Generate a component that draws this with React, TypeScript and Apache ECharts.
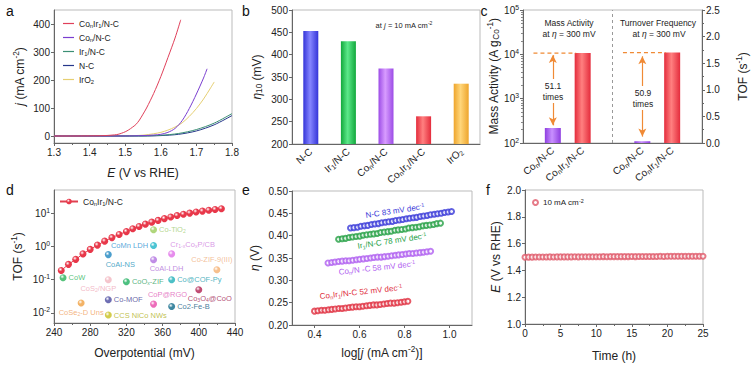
import React, { useEffect, useRef } from 'react';
import * as echarts from 'echarts';

const FONT = '"Liberation Sans", Arial, Helvetica, sans-serif';
const TXT = '#222';

// ---------------- data ----------------
// (a) LSV curves: [E (V vs RHE), j (mA cm-2)]
const aSeriesIds = ['a-CoIr', 'a-Co', 'a-Ir', 'a-NC', 'a-IrO2'];
const aLegendText = ['Co{sub|n}Ir{sub|1}/N-C', 'Co{sub|n}/N-C', 'Ir{sub|1}/N-C', 'N-C', 'IrO{sub|2}'];
const aCoIr = [[1.3, 0], [1.35, 0], [1.4, 0.5], [1.43, 1], [1.45, 2], [1.47, 4], [1.48, 6], [1.49, 10], [1.5, 15], [1.51, 22], [1.52, 31], [1.53, 41], [1.54, 57], [1.55, 78], [1.56, 100], [1.58, 152], [1.6, 212], [1.62, 280], [1.64, 350], [1.656, 415]];
const aCo = [[1.3, 0], [1.45, 0], [1.52, 0.5], [1.56, 2], [1.58, 3.5], [1.6, 6], [1.62, 13], [1.64, 27], [1.66, 55], [1.68, 98], [1.7, 150], [1.72, 207], [1.73, 240]];
const aIr = [[1.3, 0], [1.5, 0], [1.55, 0.3], [1.6, 2.5], [1.65, 9], [1.7, 23], [1.75, 46], [1.8, 80]];
const aNC = [[1.3, 0], [1.5, 0], [1.55, 0], [1.6, 1.5], [1.65, 6], [1.7, 18], [1.75, 40], [1.8, 73]];
const aIrO2 = [[1.3, 0], [1.45, 0], [1.5, 0.5], [1.55, 3], [1.58, 8], [1.6, 13], [1.62, 21], [1.64, 32], [1.66, 47], [1.68, 70], [1.7, 98], [1.72, 132], [1.74, 172], [1.75, 193]];

// (b) overpotential at 10 mA cm-2
const bCategories = ['N-C', 'Ir{sub|1}/N-C', 'Co{sub|n}/N-C', 'Co{sub|n}Ir{sub|1}/N-C', 'IrO{sub|2}'];
const bValues = [453, 430, 369, 262, 335];

// (c) mass activity (left log axis) and TOF (right axis)
const cTickLabels = ['', 'Co{sub|n}/N-C', 'Co{sub|n}Ir{sub|1}/N-C', '', 'Co{sub|n}/N-C', 'Co{sub|n}Ir{sub|1}/N-C', ''];
const cMassSlots = [1, 2];
const cMassValues = [218, 10700];
const cTofSlots = [4, 5];
const cTofValues = [0.033, 1.7];

// (d) TOF vs overpotential
const dMainEta = [248, 256, 264, 272, 280, 288, 296, 304, 312, 320, 327, 334, 341, 348, 355, 362, 369, 376, 383, 390, 397, 404, 411, 418, 425];
const dMainTof = [0.19, 0.29, 0.41, 0.6, 0.82, 1.1, 1.45, 1.85, 2.3, 2.8, 3.4, 4.0, 4.7, 5.4, 6.1, 6.9, 7.7, 8.5, 9.3, 10.1, 10.9, 11.6, 12.3, 13.0, 13.7];
const dRefNames = ['CoW', 'CoSe2-D Uns', 'CoS2/NGP', 'CoAl-NS', 'CoMn LDH', 'Co-TiO2', 'Cr1-xCoxP/CB', 'CoAl-LDH', 'Co-ZIF-9(III)', 'CoOx-ZIF', 'Co@COF-Py', 'CoP@RGO', 'Co3O4@CoO', 'Co-MOF', 'Co2-Fe-B', 'CCS NiCo NWs'];
const dRefText = ['CoW', 'CoSe{sub|2}-D Uns', 'CoS{sub|2}/NGP', 'CoAl-NS', 'CoMn LDH', 'Co-TiO{sub|2}', 'Cr{sub|1-x}Co{sub|x}P/CB', 'CoAl-LDH', 'Co-ZIF-9(III)', 'CoO{sub|x}-ZIF', 'Co@COF-Py', 'CoP@RGO', 'Co{sub|3}O{sub|4}@CoO', 'Co-MOF', 'Co2-Fe-B', 'CCS NiCo NWs'];
const dRefEta = [250, 270, 300, 300, 350, 350, 370, 350, 420, 320, 370, 350, 400, 300, 370, 300];
const dRefTof = [0.115, 0.02, 0.1, 0.57, 1.07, 3.2, 0.6, 0.4, 0.2, 0.087, 0.1, 0.0185, 0.05, 0.025, 0.0156, 0.0087];

// (e) Tafel plots: log j, eta (V)
const eNCx = [0.560, 0.575, 0.591, 0.606, 0.622, 0.637, 0.653, 0.668, 0.684, 0.699, 0.715, 0.730, 0.746, 0.761, 0.777, 0.792, 0.808, 0.823, 0.839, 0.854, 0.870, 0.885, 0.901, 0.916, 0.932, 0.947, 0.963, 0.978, 0.994, 1.009];
const eNCy = [0.417, 0.418, 0.419, 0.421, 0.422, 0.423, 0.425, 0.426, 0.427, 0.429, 0.430, 0.431, 0.432, 0.434, 0.435, 0.436, 0.438, 0.439, 0.440, 0.441, 0.443, 0.444, 0.445, 0.447, 0.448, 0.449, 0.450, 0.452, 0.453, 0.454];
const eIrx = [0.507, 0.523, 0.538, 0.554, 0.569, 0.585, 0.601, 0.616, 0.632, 0.648, 0.663, 0.679, 0.694, 0.710, 0.726, 0.741, 0.757, 0.772, 0.788, 0.804, 0.819, 0.835, 0.851, 0.866, 0.882, 0.897, 0.913, 0.929, 0.944, 0.960];
const eIry = [0.392, 0.393, 0.394, 0.396, 0.397, 0.398, 0.399, 0.401, 0.402, 0.403, 0.404, 0.405, 0.407, 0.408, 0.409, 0.410, 0.412, 0.413, 0.414, 0.415, 0.417, 0.418, 0.419, 0.420, 0.422, 0.423, 0.424, 0.425, 0.427, 0.428];
const eCox = [0.460, 0.476, 0.491, 0.507, 0.523, 0.539, 0.554, 0.570, 0.586, 0.601, 0.617, 0.633, 0.649, 0.664, 0.680, 0.696, 0.711, 0.727, 0.743, 0.759, 0.774, 0.790, 0.806, 0.821, 0.837, 0.853, 0.869, 0.884, 0.900, 0.916];
const eCoy = [0.339, 0.340, 0.341, 0.342, 0.343, 0.344, 0.344, 0.345, 0.346, 0.347, 0.348, 0.349, 0.350, 0.351, 0.352, 0.352, 0.353, 0.354, 0.355, 0.356, 0.357, 0.358, 0.359, 0.360, 0.360, 0.361, 0.362, 0.363, 0.364, 0.365];
const eCoIrx = [0.400, 0.415, 0.431, 0.446, 0.462, 0.477, 0.492, 0.508, 0.523, 0.538, 0.554, 0.569, 0.585, 0.600, 0.615, 0.631, 0.646, 0.662, 0.677, 0.692, 0.708, 0.723, 0.738, 0.754, 0.769, 0.785, 0.800, 0.815];
const eCoIry = [0.231, 0.232, 0.233, 0.233, 0.234, 0.235, 0.236, 0.237, 0.237, 0.238, 0.239, 0.240, 0.241, 0.241, 0.242, 0.243, 0.244, 0.245, 0.245, 0.246, 0.247, 0.248, 0.249, 0.249, 0.250, 0.251, 0.252, 0.253];

// (f) stability at 10 mA cm-2
const fTime = [0, 0.5, 1, 1.5, 2, 2.5, 3, 3.5, 4, 4.5, 5, 5.5, 6, 6.5, 7, 7.5, 8, 8.5, 9, 9.5, 10, 10.5, 11, 11.5, 12, 12.5, 13, 13.5, 14, 14.5, 15, 15.5, 16, 16.5, 17, 17.5, 18, 18.5, 19, 19.5, 20, 20.5, 21, 21.5, 22, 22.5, 23, 23.5, 24, 24.5, 25];
const fPotential = [1.498, 1.499, 1.499, 1.500, 1.500, 1.500, 1.500, 1.501, 1.500, 1.501, 1.501, 1.501, 1.501, 1.501, 1.502, 1.501, 1.502, 1.502, 1.502, 1.502, 1.502, 1.502, 1.503, 1.502, 1.503, 1.503, 1.503, 1.503, 1.503, 1.503, 1.504, 1.503, 1.504, 1.504, 1.504, 1.504, 1.504, 1.504, 1.505, 1.504, 1.505, 1.505, 1.505, 1.505, 1.505, 1.505, 1.506, 1.505, 1.506, 1.506, 1.506];

// ---------------- styles ----------------
const aColors = ['#e0405a', '#7a3ed0', '#3b8f74', '#26378a', '#e6cf72'];
const bBarColors = [['#3434d8', '#8585ff'], ['#12a83c', '#5ce88a'], ['#9c4ce6', '#d89cff'], ['#e42c3c', '#ff8080'], ['#eea52c', '#ffd67a']];
const cMassColors = [['#8e3ee0', '#c890ff'], ['#e42c3c', '#ff8080']];
const cTofColors = [['#8e3ee0', '#c890ff'], ['#e42c3c', '#ff8080']];
const dRefSphere = ['#2bb35a', '#f0a040', '#f2b6bf', '#1f86c0', '#1fb5c8', '#9ccc5a', '#e070e8', '#b070e0', '#f5b070', '#20b060', '#1fb0b8', '#e848a8', '#b02050', '#4a4aa0', '#106a8a', '#c8c020'];
const dRefLabelColor = ['#2bb35a', '#f0a060', '#f0a8b8', '#2090b8', '#2a8fd0', '#a0cc70', '#d080e0', '#b070d8', '#f0b080', '#30a060', '#20a0b0', '#e060b8', '#a02050', '#404090', '#105a80', '#b0b020'];
const dLabelPlace: Record<string, { position: string; offset: number[] }> = {
  'CoW': { position: 'right', offset: [0, 0] },
  'CoSe2-D Uns': { position: 'bottom', offset: [0, 0] },
  'CoS2/NGP': { position: 'bottom', offset: [-10, -1] },
  'CoAl-NS': { position: 'bottom', offset: [12, 0] },
  'CoMn LDH': { position: 'left', offset: [0, 0] },
  'Co-TiO2': { position: 'right', offset: [0, 0] },
  'Cr1-xCoxP/CB': { position: 'top', offset: [21, 0] },
  'CoAl-LDH': { position: 'bottom', offset: [13, -1] },
  'Co-ZIF-9(III)': { position: 'top', offset: [-5, -1] },
  'CoOx-ZIF': { position: 'right', offset: [0, 0] },
  'Co@COF-Py': { position: 'right', offset: [0, 0] },
  'CoP@RGO': { position: 'top', offset: [14, 0] },
  'Co3O4@CoO': { position: 'bottom', offset: [11, -1] },
  'Co-MOF': { position: 'right', offset: [0, 0] },
  'Co2-Fe-B': { position: 'right', offset: [0, 0] },
  'CCS NiCo NWs': { position: 'right', offset: [0, 0] },
};
const eColors = ['#3a3ad8', '#25a045', '#b060f0', '#e03040'];

function rich(fs: number, color: string = TXT) {
  const s = Math.round(fs * 0.68 * 10) / 10;
  return {
    sub: { fontSize: s, fontFamily: FONT, color, fill: color, padding: [Math.round(fs * 0.45), 0, 0, 0] },
    sup: { fontSize: s, fontFamily: FONT, color, fill: color, padding: [0, 0, Math.round(fs * 0.55), 0] },
    i: { fontSize: fs, fontFamily: FONT, color, fill: color, fontStyle: 'italic' },
  };
}

function hGrad(edge: string, center: string) {
  return new echarts.graphic.LinearGradient(0, 0, 1, 0, [
    { offset: 0, color: edge },
    { offset: 0.45, color: center },
    { offset: 1, color: edge },
  ]);
}

function sphere(base: string) {
  return new echarts.graphic.RadialGradient(0.38, 0.35, 0.65, [
    { offset: 0, color: '#ffffff' },
    { offset: 0.45, color: base },
    { offset: 1, color: base },
  ]);
}

function powLabel(v: number) {
  const e = Math.round(Math.log10(v));
  return '10{sup|' + String(e) + '}';
}

function axis(gridIndex: number, extra: any = {}, nameFs = 12) {
  const { axisLabel, axisTick, nameTextStyle, ...rest } = extra;
  return {
    gridIndex,
    nameLocation: 'middle',
    axisLine: { show: true, onZero: false, lineStyle: { color: '#666', width: 1 } },
    axisTick: { show: true, inside: false, length: 3, lineStyle: { color: '#666' }, ...(axisTick || {}) },
    axisLabel: { color: TXT, fontSize: 10, fontFamily: FONT, margin: 4, rich: rich(10), ...(axisLabel || {}) },
    splitLine: { show: false },
    nameTextStyle: { color: TXT, fontSize: nameFs, fontFamily: FONT, rich: rich(nameFs), ...(nameTextStyle || {}) },
    ...rest,
  };
}

function text(t: string, x: number, y: number, fs: number, color: string, extra: any = {}) {
  const { rotation, ...style } = extra;
  return {
    type: 'text',
    x,
    y,
    rotation: rotation || 0,
    silent: true,
    z: 100,
    style: {
      text: t,
      fontSize: fs,
      fontFamily: FONT,
      fill: color,
      textFill: color,
      align: 'center',
      textAlign: 'center',
      verticalAlign: 'middle',
      textVerticalAlign: 'middle',
      rich: rich(fs, color),
      ...style,
    },
  };
}

function buildOption(): any {
  const grids = [
    { left: 54, top: 10, width: 178, height: 133 },
    { left: 292, top: 10, width: 188, height: 134 },
    { left: 523, top: 10, width: 179, height: 133 },
    { left: 54, top: 190, width: 181, height: 133 },
    { left: 292, top: 191, width: 180, height: 134 },
    { left: 525, top: 190, width: 178, height: 134 },
  ].map((g) => ({ ...g, show: true, borderColor: '#bbb', borderWidth: 1, backgroundColor: 'transparent' }));

  const xAxis = [
    axis(0, { type: 'value', min: 1.3, max: 1.8, interval: 0.1, name: '{i|E} (V vs RHE)', nameGap: 24,
      axisLabel: { formatter: (v: number) => v.toFixed(1) }, minorTick: { show: true, splitNumber: 2, length: 2, lineStyle: { color: '#666' } } }),
    axis(1, { type: 'category', data: bCategories, axisTick: { show: false },
      axisLabel: { rotate: 42, margin: 6, interval: 0 } }),
    axis(2, { type: 'value', min: 0, max: 6, interval: 1, axisTick: { show: false },
      axisLabel: { rotate: 40, margin: 6, formatter: (v: number) => cTickLabels[Math.round(v)] || '' } }),
    axis(3, { type: 'value', min: 240, max: 440, interval: 40, name: 'Overpotential (mV)', nameGap: 24,
      minorTick: { show: true, splitNumber: 2, length: 2, lineStyle: { color: '#666' } } }),
    axis(4, { type: 'value', min: 0.3, max: 1.1, name: 'log[{i|j} (mA cm{sup|-2})]', nameGap: 20,
      axisLabel: { showMinLabel: false, showMaxLabel: false, formatter: (v: number) => v.toFixed(1) } }),
    axis(5, { type: 'value', min: 0, max: 25, interval: 5, name: 'Time (h)', nameGap: 26,
      minorTick: { show: true, splitNumber: 2, length: 2, lineStyle: { color: '#666' } } }),
  ];

  const yAxis = [
    axis(0, { type: 'value', min: -25, max: 450, name: '{i|j} (mA cm{sup|-2})', nameGap: 27,
      axisLabel: { showMinLabel: false, showMaxLabel: false } }),
    axis(1, { type: 'value', min: 200, max: 500, interval: 50, name: '{i|η}{sub|10} (mV)', nameGap: 29 }),
    axis(2, { type: 'log', logBase: 10, min: 100, max: 100000, name: 'Mass Activity (A g{sub|Co}{sup|-1})', nameGap: 21,
      axisLabel: { formatter: (v: number) => powLabel(v), rich: rich(10) },
      minorTick: { show: true, splitNumber: 9, length: 2, lineStyle: { color: '#888' } } }),
    axis(2, { type: 'value', position: 'right', min: 0, max: 2.5, interval: 0.5, name: 'TOF (s{sup|-1})', nameGap: 33,
      axisLabel: { formatter: (v: number) => v.toFixed(1) },
      minorTick: { show: true, splitNumber: 2, length: 2, lineStyle: { color: '#666' } } }),
    axis(3, { type: 'log', logBase: 10, min: 0.005, max: 50, name: 'TOF (s{sup|-1})', nameGap: 29,
      axisLabel: { showMinLabel: false, showMaxLabel: false, formatter: (v: number) => powLabel(v), rich: rich(10) } }),
    axis(4, { type: 'value', min: 0.2, max: 0.5, interval: 0.05, name: '{i|η} (V)', nameGap: 31,
      axisLabel: { formatter: (v: number) => v.toFixed(2) } }),
    axis(5, { type: 'value', min: 1.0, max: 2.0, interval: 0.2, name: '{i|E} (V vs RHE)', nameGap: 23,
      axisLabel: { formatter: (v: number) => v.toFixed(1) } }),
  ];

  const series: any[] = [];
  // (a)
  [aCoIr, aCo, aIr, aNC, aIrO2].forEach((d, i) => {
    series.push({
      type: 'line', name: aSeriesIds[i], xAxisIndex: 0, yAxisIndex: 0, data: d, smooth: 0.3,
      symbol: 'none', lineStyle: { color: aColors[i], width: 1 }, itemStyle: { color: aColors[i] }, z: 5 - i,
    });
  });
  // (b)
  series.push({
    type: 'bar', name: 'b', xAxisIndex: 1, yAxisIndex: 1, barWidth: 15,
    data: bValues.map((v, i) => ({ value: v, itemStyle: { color: hGrad(bBarColors[i][0], bBarColors[i][1]) } })),
  });
  // (c) bars via custom series (log axis base at the axis minimum)
  series.push({
    type: 'custom', name: 'c-mass', xAxisIndex: 2, yAxisIndex: 2,
    data: cMassSlots.map((x, i) => [x, cMassValues[i]]),
    renderItem: (params: any, api: any) => {
      const top = api.coord([api.value(0), api.value(1)]);
      const base = api.coord([api.value(0), 100]);
      const w = 16;
      const c = cMassColors[params.dataIndex];
      return { type: 'rect', shape: { x: top[0] - w / 2, y: top[1], width: w, height: base[1] - top[1] }, style: { fill: hGrad(c[0], c[1]) } };
    },
  });
  series.push({
    type: 'custom', name: 'c-tof', xAxisIndex: 2, yAxisIndex: 3,
    data: cTofSlots.map((x, i) => [x, cTofValues[i]]),
    renderItem: (params: any, api: any) => {
      const top = api.coord([api.value(0), api.value(1)]);
      const base = api.coord([api.value(0), 0]);
      const w = 16;
      const c = cTofColors[params.dataIndex];
      return { type: 'rect', shape: { x: top[0] - w / 2, y: top[1], width: w, height: Math.max(1, base[1] - top[1]) }, style: { fill: hGrad(c[0], c[1]) } };
    },
  });
  // divider
  series.push({
    type: 'line', name: 'c-div', xAxisIndex: 2, yAxisIndex: 2, data: [[3, 100], [3, 100000]], symbol: 'none',
    lineStyle: { color: '#999', width: 1, type: [3, 3] }, silent: true,
  });
  const orange = '#f08a35';
  series.push({
    type: 'line', name: 'c-dash1', xAxisIndex: 2, yAxisIndex: 2,
    data: [[0.35, cMassValues[1]], [1.78, cMassValues[1]]], symbol: 'none',
    lineStyle: { color: orange, width: 1.2, type: [4, 3] }, silent: true,
    markLine: {
      silent: true, symbol: ['arrow', 'arrow'], symbolSize: [6, 8], label: { show: false },
      lineStyle: { color: orange, width: 1.2, type: 'solid' },
      data: [[{ coord: [1, 9600] }, { coord: [1, 250] }]],
    },
  });
  series.push({
    type: 'line', name: 'c-dash2', xAxisIndex: 2, yAxisIndex: 3,
    data: [[3.35, cTofValues[1]], [4.78, cTofValues[1]]], symbol: 'none',
    lineStyle: { color: orange, width: 1.2, type: [4, 3] }, silent: true,
    markLine: {
      silent: true, symbol: ['arrow', 'arrow'], symbolSize: [6, 8], label: { show: false },
      lineStyle: { color: orange, width: 1.2, type: 'solid' },
      data: [[{ coord: [4, 1.63] }, { coord: [4, 0.12] }]],
    },
  });
  // (d)
  series.push({
    type: 'line', name: 'd-CoIr', xAxisIndex: 3, yAxisIndex: 4,
    data: dMainEta.map((x, i) => [x, dMainTof[i]]),
    symbol: 'circle', symbolSize: 7, showSymbol: true,
    lineStyle: { color: '#e04050', width: 1 }, itemStyle: { color: sphere('#e8384a') }, z: 4,
  });
  series.push({
    type: 'scatter', name: 'd-refs', xAxisIndex: 3, yAxisIndex: 4, symbolSize: 7,
    data: dRefNames.map((n, i) => ({
      name: n,
      value: [dRefEta[i], dRefTof[i]],
      itemStyle: { color: sphere(dRefSphere[i]) },
      label: {
        show: true, formatter: dRefText[i], position: dLabelPlace[n].position, offset: dLabelPlace[n].offset, distance: 2,
        color: dRefLabelColor[i], fontSize: 7.5, fontFamily: FONT, rich: rich(7.5, dRefLabelColor[i]),
      },
    })),
    z: 3,
  });
  // (e)
  [[eNCx, eNCy], [eIrx, eIry], [eCox, eCoy], [eCoIrx, eCoIry]].forEach(([xs, ys], i) => {
    series.push({
      type: 'scatter', name: 'e-' + i, xAxisIndex: 4, yAxisIndex: 5,
      data: xs.map((x, k) => [x, ys[k]]), symbol: 'emptyCircle', symbolSize: 5,
      itemStyle: { color: eColors[i], borderColor: eColors[i], borderWidth: 1 },
    });
  });
  // (f)
  series.push({
    type: 'scatter', name: 'f-10', xAxisIndex: 5, yAxisIndex: 6,
    data: fTime.map((t, i) => [t, fPotential[i]]), symbol: 'emptyCircle', symbolSize: 5,
    itemStyle: { color: '#e05a6a', borderColor: '#e05a6a', borderWidth: 1 },
  });

  const legendNames: Record<string, string> = {};
  aSeriesIds.forEach((id, i) => (legendNames[id] = aLegendText[i]));
  legendNames['d-CoIr'] = 'Co{sub|n}Ir{sub|1}/N-C';
  legendNames['f-10'] = '10 mA cm{sup|-2}';

  const legend = [
    { data: aSeriesIds.map((n) => ({ name: n, icon: 'rect' })), left: 63, top: 18, orient: 'vertical', padding: 0, itemGap: 3, itemWidth: 11, itemHeight: 1.2,
      formatter: (n: string) => legendNames[n], textStyle: { color: TXT, fontSize: 8.5, fontFamily: FONT, lineHeight: 11, rich: rich(8.5) } },
    { data: ['d-CoIr'], left: 59, top: 197, orient: 'vertical', padding: 0, itemWidth: 18, itemHeight: 7, itemGap: 3,
      formatter: (n: string) => legendNames[n], textStyle: { color: TXT, fontSize: 8.5, fontFamily: FONT, rich: rich(8.5) } },
    { data: ['f-10'], left: 532, top: 198, orient: 'vertical', padding: 0, itemWidth: 5, itemHeight: 5, itemGap: 3,
      formatter: (n: string) => legendNames[n], textStyle: { color: TXT, fontSize: 8, fontFamily: FONT, rich: rich(8) } },
  ];

  const graphic = [
    text('a', 10, 11, 14, '#111'),
    text('b', 246, 11, 14, '#111'),
    text('c', 484, 11, 14, '#111'),
    text('d', 10, 190, 14, '#111'),
    text('e', 246, 190, 14, '#111'),
    text('f', 488, 190, 14, '#111'),
    text('at {i|j} = 10 mA cm{sup|-2}', 404, 25, 7.5, TXT),
    text('Mass Activity', 569, 23, 8.5, TXT),
    text('at {i|η} = 300 mV', 569, 33.5, 8.5, TXT),
    text('Turnover Frequency', 658, 23, 8.5, TXT),
    text('at {i|η} = 300 mV', 659, 33.5, 8.5, TXT),
    text('51.1\ntimes', 553, 91, 8.5, TXT, { backgroundColor: '#fff', padding: [1, 0], lineHeight: 11 }),
    text('50.9\ntimes', 643, 98, 8.5, TXT, { backgroundColor: '#fff', padding: [1, 0], lineHeight: 11 }),
    text('N-C 83 mV dec{sup|-1}', 395, 211, 8, eColors[0], { rotation: 0.15 }),
    text('Ir{sub|1}/N-C 78 mV dec{sup|-1}', 392, 241, 8, eColors[1], { rotation: 0.15 }),
    text('Co{sub|n}/N -C 58 mV dec{sup|-1}', 377, 268, 8, eColors[2], { rotation: 0.11 }),
    text('Co{sub|n}Ir{sub|1}/N-C 52 mV dec{sup|-1}', 361, 292, 8, eColors[3], { rotation: 0.11 }),
  ];

  return {
    animation: false,
    backgroundColor: '#fff',
    textStyle: { fontFamily: FONT },
    grid: grids,
    xAxis,
    yAxis,
    legend,
    series,
    graphic,
  };
}

export default function App() {
  const ref = useRef<HTMLDivElement>(null);
  useEffect(() => {
    if (!ref.current) return;
    const chart = echarts.init(ref.current, null, { renderer: 'svg' });
    chart.setOption(buildOption());
    return () => chart.dispose();
  }, []);
  return <div ref={ref} style={{ position: 'fixed', left: 0, top: 0, width: 756, height: 370, background: '#fff' }} />;
}
